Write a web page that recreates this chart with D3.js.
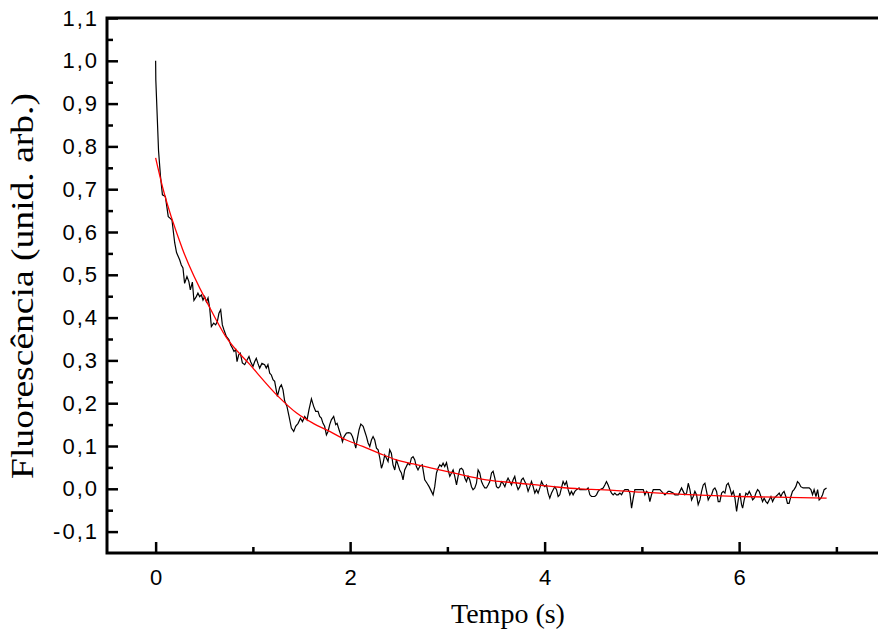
<!DOCTYPE html>
<html lang="pt">
<head>
    <meta charset="UTF-8">
    <title>Fluorescência vs Tempo</title>
    <script src="https://d3js.org/d3.v7.min.js"></script>
    <style>
        body { margin: 0; background: #fff; }
        .tick text { font-family: "Liberation Sans", Arial, sans-serif; font-size: 22px; fill: #000; }
        .y-axis .tick text { letter-spacing: 2px; }
        .label { font-family: "Liberation Serif", "Times New Roman", serif; fill: #000; }
    </style>
</head>
<body>
    <div id="chart"></div>
    <script>
        // tick values and labels
        const xTicks = [0, 2, 4, 6];
        const xTickLabels = ["0", "2", "4", "6"];
        const xMinor = [1, 3, 5, 7];
        const yTicks = [-0.1, 0, 0.1, 0.2, 0.3, 0.4, 0.5, 0.6, 0.7, 0.8, 0.9, 1.0, 1.1];
        const yTickLabels = ["-0,1", "0,0", "0,1", "0,2", "0,3", "0,4", "0,5", "0,6", "0,7", "0,8", "0,9", "1,0", "1,1"];
        const yMinor = [-0.05, 0.05, 0.15, 0.25, 0.35, 0.45, 0.55, 0.65, 0.75, 0.85, 0.95, 1.05];

        // measured signal [tempo (s), fluorescencia]
        const sinal = [
            [0.000, 1.000], [0.002, 0.955], [0.030, 0.790], [0.050, 0.730], [0.070, 0.687], [0.100, 0.683],
            [0.130, 0.636], [0.145, 0.633], [0.168, 0.628], [0.196, 0.575], [0.215, 0.552], [0.247, 0.535],
            [0.264, 0.523], [0.281, 0.516], [0.298, 0.480], [0.322, 0.496], [0.342, 0.484], [0.357, 0.465],
            [0.378, 0.483], [0.394, 0.440], [0.418, 0.449], [0.435, 0.457], [0.453, 0.449], [0.470, 0.453],
            [0.487, 0.441], [0.504, 0.449], [0.522, 0.437], [0.539, 0.446], [0.556, 0.422], [0.573, 0.379],
            [0.597, 0.387], [0.617, 0.383], [0.634, 0.390], [0.651, 0.410], [0.669, 0.418], [0.686, 0.383],
            [0.703, 0.371], [0.727, 0.356], [0.754, 0.348], [0.772, 0.336], [0.789, 0.329], [0.806, 0.321],
            [0.823, 0.325], [0.837, 0.297], [0.854, 0.313], [0.871, 0.317], [0.892, 0.294], [0.916, 0.290],
            [0.940, 0.301], [0.960, 0.309], [0.977, 0.297], [1.001, 0.286], [1.018, 0.297], [1.035, 0.305],
            [1.052, 0.293], [1.070, 0.282], [1.093, 0.293], [1.121, 0.290], [1.138, 0.282], [1.155, 0.290],
            [1.173, 0.270], [1.190, 0.266], [1.207, 0.255], [1.224, 0.251], [1.252, 0.216], [1.276, 0.237],
            [1.293, 0.243], [1.310, 0.231], [1.327, 0.205], [1.351, 0.192], [1.372, 0.169], [1.396, 0.142],
            [1.420, 0.134], [1.440, 0.146], [1.465, 0.153], [1.489, 0.165], [1.510, 0.157], [1.533, 0.169],
            [1.557, 0.161], [1.577, 0.185], [1.602, 0.210], [1.626, 0.192], [1.646, 0.181], [1.670, 0.181],
            [1.687, 0.169], [1.704, 0.165], [1.721, 0.153], [1.738, 0.146], [1.756, 0.126], [1.773, 0.134],
            [1.790, 0.150], [1.807, 0.161], [1.831, 0.169], [1.852, 0.150], [1.866, 0.153], [1.886, 0.138],
            [1.903, 0.126], [1.921, 0.110], [1.938, 0.122], [1.962, 0.130], [1.986, 0.131], [2.006, 0.130],
            [2.024, 0.122], [2.041, 0.110], [2.058, 0.095], [2.075, 0.118], [2.092, 0.138], [2.110, 0.151],
            [2.134, 0.146], [2.151, 0.134], [2.168, 0.122], [2.185, 0.107], [2.202, 0.099], [2.219, 0.114],
            [2.236, 0.122], [2.253, 0.114], [2.271, 0.095], [2.288, 0.091], [2.305, 0.072], [2.322, 0.048],
            [2.339, 0.060], [2.356, 0.079], [2.373, 0.072], [2.390, 0.064], [2.407, 0.091], [2.424, 0.083],
            [2.441, 0.056], [2.459, 0.044], [2.476, 0.068], [2.493, 0.056], [2.510, 0.044], [2.527, 0.037],
            [2.544, 0.021], [2.561, 0.044], [2.578, 0.052], [2.595, 0.060], [2.613, 0.056], [2.630, 0.072],
            [2.647, 0.075], [2.664, 0.068], [2.681, 0.052], [2.698, 0.044], [2.715, 0.052], [2.742, 0.056],
            [2.767, 0.021], [2.791, 0.013], [2.812, 0.005], [2.836, -0.006], [2.853, -0.014], [2.870, 0.005],
            [2.888, 0.037], [2.904, 0.048], [2.922, 0.056], [2.939, 0.052], [2.956, 0.060], [2.973, 0.052],
            [2.991, 0.061], [3.007, 0.044], [3.025, 0.029], [3.042, 0.037], [3.059, 0.044], [3.076, 0.029],
            [3.094, 0.009], [3.110, 0.029], [3.128, 0.046], [3.145, 0.048], [3.161, 0.044], [3.179, 0.025],
            [3.196, 0.017], [3.213, 0.029], [3.230, 0.021], [3.248, 0.005], [3.264, -0.002], [3.282, 0.002],
            [3.299, 0.013], [3.316, 0.044], [3.333, 0.037], [3.351, 0.017], [3.367, 0.009], [3.385, 0.002],
            [3.402, 0.002], [3.419, 0.009], [3.436, 0.017], [3.454, 0.037], [3.470, 0.041], [3.488, 0.025],
            [3.505, 0.005], [3.522, 0.002], [3.539, 0.005], [3.556, 0.017], [3.573, 0.013], [3.591, 0.005],
            [3.608, 0.017], [3.624, 0.025], [3.642, 0.017], [3.659, 0.009], [3.676, 0.021], [3.693, 0.029],
            [3.711, 0.009], [3.727, -0.002], [3.745, 0.005], [3.762, 0.021], [3.779, 0.025], [3.796, 0.017],
            [3.813, 0.009], [3.830, -0.006], [3.848, 0.005], [3.865, 0.017], [3.882, 0.005], [3.899, -0.010],
            [3.916, -0.002], [3.933, -0.010], [3.951, 0.002], [3.968, 0.017], [3.985, 0.009], [4.002, 0.005],
            [4.019, 0.009], [4.036, -0.010], [4.053, -0.022], [4.071, -0.010], [4.088, -0.002], [4.105, 0.005],
            [4.122, -0.002], [4.139, -0.018], [4.156, -0.014], [4.173, 0.002], [4.190, 0.017], [4.208, 0.009],
            [4.225, 0.017], [4.242, -0.002], [4.259, -0.014], [4.276, -0.006], [4.293, -0.014], [4.311, -0.006],
            [4.328, -0.002], [4.354, 0.002], [4.362, -0.002], [4.396, -0.002], [4.430, -0.002], [4.447, 0.002],
            [4.465, -0.014], [4.482, -0.018], [4.516, -0.018], [4.533, -0.014], [4.550, -0.006], [4.568, -0.002],
            [4.602, 0.002], [4.619, 0.009], [4.636, 0.017], [4.653, 0.009], [4.671, -0.002], [4.688, -0.010],
            [4.705, -0.014], [4.722, -0.010], [4.739, -0.014], [4.756, -0.014], [4.774, -0.010], [4.791, -0.014],
            [4.808, -0.006], [4.825, -0.002], [4.859, -0.002], [4.877, -0.010], [4.894, -0.045], [4.911, -0.022],
            [4.928, -0.002], [4.945, -0.002], [4.979, -0.002], [5.014, -0.002], [5.031, -0.014], [5.048, -0.006],
            [5.065, -0.010], [5.082, -0.030], [5.099, -0.014], [5.117, -0.002], [5.151, -0.002], [5.185, -0.002],
            [5.202, -0.006], [5.219, -0.010], [5.237, -0.014], [5.254, -0.010], [5.271, -0.006], [5.288, -0.006],
            [5.322, -0.010], [5.340, -0.014], [5.374, -0.014], [5.391, -0.006], [5.408, 0.002], [5.425, -0.006],
            [5.442, -0.014], [5.460, -0.010], [5.477, 0.013], [5.494, -0.002], [5.511, -0.026], [5.528, -0.018],
            [5.545, -0.006], [5.562, -0.014], [5.579, -0.037], [5.597, -0.026], [5.614, -0.006], [5.631, 0.009],
            [5.648, 0.013], [5.665, -0.006], [5.682, -0.026], [5.700, -0.018], [5.717, -0.014], [5.734, -0.002],
            [5.751, 0.002], [5.768, -0.006], [5.785, -0.030], [5.802, -0.030], [5.820, -0.010], [5.837, -0.006],
            [5.854, -0.010], [5.871, 0.009], [5.888, 0.013], [5.905, 0.002], [5.923, -0.014], [5.940, -0.006],
            [5.957, -0.022], [5.974, -0.053], [5.991, -0.026], [6.008, -0.010], [6.025, -0.037], [6.036, -0.045],
            [6.052, -0.026], [6.070, -0.010], [6.087, -0.014], [6.104, -0.006], [6.121, -0.014], [6.139, -0.026],
            [6.155, -0.022], [6.173, -0.010], [6.190, -0.002], [6.206, -0.006], [6.224, -0.018], [6.241, -0.030],
            [6.257, -0.022], [6.275, -0.030], [6.292, -0.034], [6.309, -0.026], [6.327, -0.018], [6.344, -0.030],
            [6.360, -0.022], [6.378, -0.018], [6.395, -0.014], [6.412, -0.010], [6.429, -0.018], [6.446, -0.010],
            [6.462, -0.006], [6.480, -0.018], [6.497, -0.034], [6.514, -0.034], [6.532, -0.018], [6.549, -0.006],
            [6.565, -0.002], [6.583, 0.005], [6.600, 0.017], [6.617, 0.013], [6.634, 0.005], [6.658, 0.002],
            [6.693, 0.002], [6.720, 0.002], [6.738, -0.002], [6.755, -0.014], [6.771, -0.002], [6.790, -0.018],
            [6.807, -0.002], [6.823, -0.026], [6.841, -0.022], [6.858, -0.014], [6.874, -0.002], [6.899, 0.002]
        ];

        // fitted decay curve [tempo (s), fluorescencia]
        const ajuste = [
            [0.00, 0.773], [0.07, 0.706], [0.28, 0.558], [0.56, 0.422], [0.72, 0.356], [0.97, 0.290],
            [1.26, 0.216], [1.45, 0.177], [1.62, 0.153], [1.79, 0.134], [1.96, 0.114], [2.13, 0.099],
            [2.30, 0.083], [2.47, 0.068], [2.65, 0.058], [2.92, 0.044], [3.06, 0.037], [3.40, 0.021],
            [3.74, 0.013], [4.09, 0.005], [4.36, 0.000], [4.57, -0.002], [5.00, -0.008], [5.60, -0.015],
            [6.00, -0.018], [6.90, -0.022]
        ];

        const width = 878, height = 638;
        const x0 = 107, x1 = 885, yTop = 18, yBottom = 553;

        const svg = d3.select("#chart")
            .append("svg")
            .attr("width", width)
            .attr("height", height);

        const x = d3.scaleLinear().domain([-0.5, 7.5]).range([x0, x1]);
        const y = d3.scaleLinear().domain([-0.15, 1.1]).range([yBottom, yTop]);

        // minor ticks
        svg.append("g")
            .attr("transform", `translate(${x0},0)`)
            .call(d3.axisLeft(y).tickValues(yMinor).tickSize(-6).tickFormat(""))
            .call(g => g.select(".domain").remove());
        svg.append("g")
            .attr("transform", `translate(0,${yBottom})`)
            .call(d3.axisBottom(x).tickValues(xMinor).tickSize(-6).tickFormat(""))
            .call(g => g.select(".domain").remove());

        // major ticks with labels
        svg.append("g")
            .attr("class", "y-axis")
            .attr("transform", `translate(${x0},0)`)
            .call(d3.axisLeft(y).tickValues(yTicks).tickSize(-11).tickPadding(8)
                .tickFormat((d, i) => yTickLabels[i]))
            .call(g => g.select(".domain").remove());
        svg.append("g")
            .attr("transform", `translate(0,${yBottom})`)
            .call(d3.axisBottom(x).tickValues(xTicks).tickSize(-11).tickPadding(16)
                .tickFormat((d, i) => xTickLabels[i]))
            .call(g => g.select(".domain").remove());

        svg.selectAll(".tick line").attr("stroke", "#000").attr("stroke-width", 2.5);

        // frame
        svg.append("rect")
            .attr("x", x0)
            .attr("y", yTop)
            .attr("width", x1 - x0)
            .attr("height", yBottom - yTop)
            .attr("fill", "none")
            .attr("stroke", "#000")
            .attr("stroke-width", 3);

        const line = d3.line()
            .x(d => x(d[0]))
            .y(d => y(d[1]));

        svg.append("path")
            .datum(sinal)
            .attr("fill", "none")
            .attr("stroke", "#000")
            .attr("stroke-width", 1.2)
            .attr("d", line.curve(d3.curveLinear));

        svg.append("path")
            .datum(ajuste)
            .attr("fill", "none")
            .attr("stroke", "#ff0000")
            .attr("stroke-width", 1.3)
            .attr("d", line.curve(d3.curveMonotoneX));

        // axis titles
        svg.append("text")
            .attr("class", "label")
            .attr("x", 508)
            .attr("y", 623)
            .attr("text-anchor", "middle")
            .style("font-size", "28px")
            .text("Tempo (s)");

        svg.append("text")
            .attr("class", "label")
            .attr("transform", "translate(33,286) rotate(-90)")
            .attr("text-anchor", "middle")
            .attr("textLength", 386)
            .attr("lengthAdjust", "spacingAndGlyphs")
            .style("font-size", "31px")
            .text("Fluorescência (unid. arb.)");
    </script>
</body>
</html>
